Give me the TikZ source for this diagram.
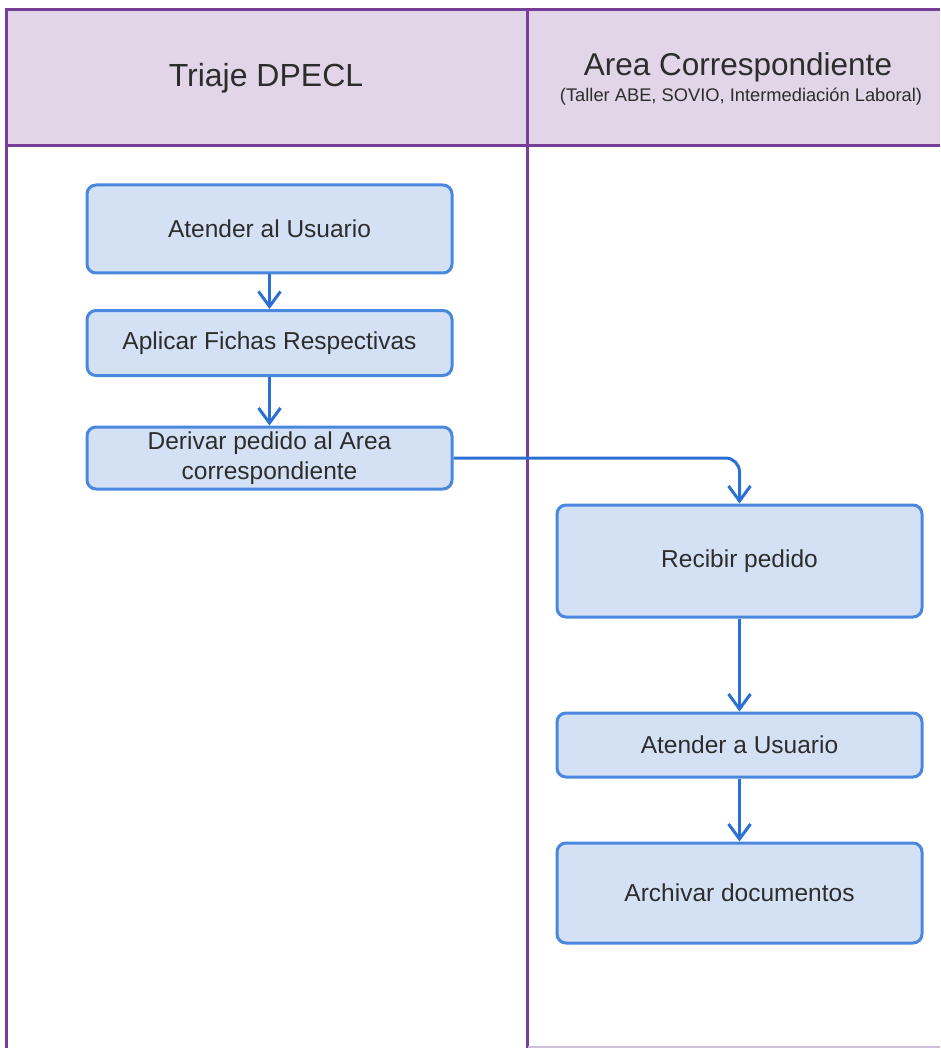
\documentclass[tikz,border=0pt]{standalone}
\usepackage{fontspec}
\setmainfont{Liberation Sans}
\usetikzlibrary{arrows.meta}

\definecolor{lanepurple}{RGB}{118,62,150}
\definecolor{lanefill}{RGB}{225,213,231}
\definecolor{lanefaint}{RGB}{205,190,220}
\definecolor{boxfill}{RGB}{212,225,245}
\definecolor{boxline}{RGB}{74,136,222}
\definecolor{flowline}{RGB}{44,112,212}
\definecolor{txt}{RGB}{45,45,45}

\tikzset{
  x=1pt, y=-1pt,
  laneline/.style={draw=lanepurple, line width=3pt},
  headtext/.style={text=txt, inner sep=0pt, anchor=center},
  stepbox/.style={draw=boxline, fill=boxfill, line width=3pt, rounded corners=9pt,
    text=txt, align=center, font=\fontsize{24.5}{30.5}\selectfont},
  flow/.style={draw=flowline, line width=3pt,
    -{Straight Barb[length=15pt,width=22pt,line width=3pt]}},
}

\begin{document}
\begin{tikzpicture}
  \useasboundingbox (0,0) rectangle (940,1048);

  % swimlane header band
  \fill[lanefill] (6,10) rectangle (940,146);
  \draw[laneline] (5,9.5) -- (940,9.5);
  \draw[laneline] (5,146) -- (940,146);
  \draw[laneline] (6.5,8) -- (6.5,1048);
  \draw[laneline] (527,8) -- (527,1048);
  \draw[draw=lanefaint, line width=1.5pt] (528,1047) -- (940,1047);

  % lane titles
  \node[headtext, font=\fontsize{32}{38}\selectfont] (t1) at (266,78) {Triaje DPECL};
  \node[headtext, font=\fontsize{31.5}{38}\selectfont] (t2) at (738,67) {Area Correspondiente};
  \node[headtext, font=\fontsize{18.3}{22}\selectfont] (t3) at (741,97) {(Taller ABE, SOVIO, Intermediación Laboral)};

  % process steps, left lane
  \node[stepbox, minimum width=365pt, minimum height=88pt] (a1) at (269.5,229) {Atender al Usuario};
  \node[stepbox, minimum width=365pt, minimum height=65pt] (a2) at (269.5,343) {Aplicar Fichas Respectivas};
  \node[stepbox, minimum width=365pt, minimum height=62pt, inner sep=1pt] (a3) at (269.5,458) {Derivar pedido al Area\\correspondiente};

  % process steps, right lane
  \node[stepbox, minimum width=365pt, minimum height=112pt] (b1) at (739.5,561) {Recibir pedido};
  \node[stepbox, minimum width=365pt, minimum height=64pt] (b2) at (739.5,745) {Atender a Usuario};
  \node[stepbox, minimum width=365pt, minimum height=100pt] (b3) at (739.5,893) {Archivar documentos};

  % connectors
  \draw[flow] (a1.south) -- (a2.north);
  \draw[flow] (a2.south) -- (a3.north);
  \draw[flow, rounded corners=14pt] (a3.east) -| (b1.north);
  \draw[flow] (b1.south) -- (b2.north);
  \draw[flow] (b2.south) -- (b3.north);
\end{tikzpicture}
\end{document}
